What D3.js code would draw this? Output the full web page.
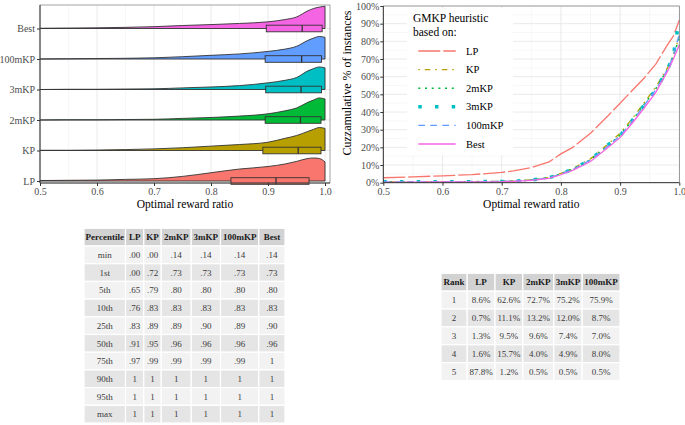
<!DOCTYPE html>
<html><head><meta charset="utf-8">
<script src="https://cdn.jsdelivr.net/npm/d3@7"></script>
<style>
body{margin:0;background:#fff;}
svg, svg text{font-family:"Liberation Serif","Times New Roman",serif;}
</style></head>
<body><svg id="c" width="685" height="425"></svg>
<script>
// ---------- DATA ----------
const heuristics = ["LP","KP","2mKP","3mKP","100mKP","Best"];
const colors = ["#F8766D","#B79F00","#00BA38","#00BFC4","#619CFF","#F564E3"];

// ridge densities (relative) on grid
const densX = [0.5,0.55,0.6,0.65,0.7,0.75,0.8,0.85,0.9,0.93,0.95,0.97,0.98,0.99,1.0];
const densLP     = [0.02,0.03,0.04,0.07,0.10,0.20,0.36,0.52,0.63,0.74,0.85,0.98,1.00,0.98,0.83];
const densKP     = [0.01,0.01,0.02,0.04,0.07,0.12,0.19,0.26,0.36,0.53,0.65,0.83,0.92,1.00,0.96];
const dens2mKP   = [0.00,0.01,0.01,0.02,0.03,0.07,0.11,0.17,0.27,0.40,0.52,0.77,0.87,0.96,0.91];
const dens3mKP   = [0.00,0.01,0.01,0.02,0.03,0.07,0.11,0.17,0.29,0.40,0.52,0.81,0.91,0.98,0.94];
const dens100mKP = [0.00,0.01,0.02,0.03,0.05,0.10,0.16,0.22,0.33,0.43,0.55,0.81,0.91,0.98,0.94];
const densBest   = [0.01,0.02,0.03,0.05,0.08,0.13,0.17,0.22,0.29,0.39,0.50,0.77,0.87,0.93,0.97];

// box quartiles [q1, median, q3]
const boxLP = [0.835,0.914,0.972];
const boxKP = [0.891,0.953,0.993];
const box2mKP = [0.895,0.957,0.993];
const box3mKP = [0.896,0.958,0.994];
const box100mKP = [0.895,0.959,0.994];
const boxBest = [0.897,0.960,0.995];

// cumulative distribution
const cdfX = [0.5,0.55,0.6,0.65,0.7,0.72,0.75,0.78,0.8,0.82,0.85,0.88,0.9,0.92,0.94,0.96,0.98,0.99,1.0];
const cdfLP     = [2.8,3.3,3.9,4.6,5.8,6.7,8.6,11.8,16.3,20,28,38,45,52,59,67,78,83,92];
const cdfKP     = [0.4,0.4,0.5,0.6,0.8,1.0,1.6,3.0,5.3,8.0,13.5,22,28,36,45,54,65,72,83];
const cdf2mKP   = [0.4,0.4,0.5,0.6,0.7,0.9,1.5,2.8,5.0,7.6,13,21,27,35,44,53,64,72,82];
const cdf3mKP   = [0.5,0.5,0.5,0.6,0.7,0.9,1.5,2.8,5.0,7.6,13,21.5,26.5,35,43.5,52.5,64,72,93];
const cdf100mKP = [0.4,0.4,0.5,0.6,0.7,0.9,1.5,2.8,5.0,7.5,12.8,21,26.5,34.5,43.5,52.5,64,72,84];
const cdfBest   = [0.2,0.3,0.4,0.5,0.6,0.8,1.3,2.5,4.5,7.0,12,20,25.5,33.5,42,51,63,70,78];
const cdfDash = ["22 3","1.5 5 5.5 5","2 4.7","3.5 13.2","6.7 5.3",null];
const cdfWidth = [1.3,1.3,1.6,3.5,1.3,1.3];

const xTicks = [0.5,0.6,0.7,0.8,0.9,1.0];
const yTicksPct = [0,10,20,30,40,50,60,70,80,90,100];

// percentile table
const pctHeader = ["Percentile","LP","KP","2mKP","3mKP","100mKP","Best"];
const pctLabels = ["min","1st","5th","10th","25th","50th","75th","90th","95th","max"];
const pctLP     = [".00",".00",".65",".76",".83",".91",".97","1","1","1"];
const pctKP     = [".00",".72",".79",".83",".89",".95",".99","1","1","1"];
const pct2mKP   = [".14",".73",".80",".83",".89",".96",".99","1","1","1"];
const pct3mKP   = [".14",".73",".80",".83",".90",".96",".99","1","1","1"];
const pct100mKP = [".14",".73",".80",".83",".89",".96",".99","1","1","1"];
const pctBest   = [".14",".73",".80",".83",".90",".96","1","1","1","1"];

// rank table
const rankHeader = ["Rank","LP","KP","2mKP","3mKP","100mKP"];
const rankLabels = ["1","2","3","4","5"];
const rankLP     = ["8.6%","0.7%","1.3%","1.6%","87.8%"];
const rankKP     = ["62.6%","11.1%","9.5%","15.7%","1.2%"];
const rank2mKP   = ["72.7%","13.2%","9.6%","4.0%","0.5%"];
const rank3mKP   = ["75.2%","12.0%","7.4%","4.9%","0.5%"];
const rank100mKP = ["75.9%","8.7%","7.0%","8.0%","0.5%"];

// ---------- DRAW ----------
const FONT = "Liberation Serif";
const svg = d3.select("#c");
const axisCol = "#4d4d4d";
const gridMajor = "#e4e4e4", gridMinor = "#efefef";

// ===== Left: ridgeline =====
const L = {x0:40, x1:330, y0:5, y1:183};
const xL = d3.scaleLinear().domain([0.5,1.0]).range([40,325]);
const yL = d3.scalePoint().domain(heuristics).range([181,28.5]);
const hL = d3.scaleLinear().domain([0,1]).range([0,23]);
const dens = [densLP,densKP,dens2mKP,dens3mKP,dens100mKP,densBest];
const boxes = [boxLP,boxKP,box2mKP,box3mKP,box100mKP,boxBest];

const gL = svg.append("g");
gL.append("rect").attr("x",L.x0).attr("y",L.y0).attr("width",L.x1-L.x0).attr("height",L.y1-L.y0).attr("fill","#fff");
d3.range(0.55,1.0,0.1).forEach(v=>{
  gL.append("line").attr("x1",xL(v)).attr("x2",xL(v)).attr("y1",L.y0).attr("y2",L.y1).attr("stroke",gridMinor).attr("stroke-width",0.5);
});
xTicks.forEach(v=>{
  gL.append("line").attr("x1",xL(v)).attr("x2",xL(v)).attr("y1",L.y0).attr("y2",L.y1).attr("stroke",gridMajor).attr("stroke-width",0.8);
});
heuristics.forEach(h=>{
  gL.append("line").attr("x1",L.x0).attr("x2",L.x1).attr("y1",yL(h)).attr("y2",yL(h)).attr("stroke",gridMajor).attr("stroke-width",0.8);
});
for (let i = heuristics.length-1; i >= 0; i--) {
  const h = heuristics[i], base = yL(h);
  const pts = densX.map((x,j)=>[x, dens[i][j]]);
  const area = d3.area().x(d=>xL(d[0])).y0(base).y1(d=>base-hL(d[1])).curve(d3.curveMonotoneX);
  gL.append("path").attr("d",area(pts)).attr("fill",colors[i]).attr("stroke","none");
  const line = d3.line().x(d=>xL(d[0])).y(d=>base-hL(d[1])).curve(d3.curveMonotoneX);
  const last = pts[pts.length-1];
  gL.append("path").attr("d",line(pts)+`L${xL(last[0])},${base}`).attr("fill","none").attr("stroke","#333").attr("stroke-width",0.9);
  gL.append("line").attr("x1",L.x0).attr("x2",xL(1.0)).attr("y1",base).attr("y2",base).attr("stroke","#333").attr("stroke-width",0.9);
  const b = boxes[i];
  gL.append("rect").attr("x",xL(b[0])).attr("y",base-3.3).attr("width",xL(b[2])-xL(b[0])).attr("height",6.6)
    .attr("fill",colors[i]).attr("stroke","#333").attr("stroke-width",0.9);
  gL.append("line").attr("x1",xL(b[1])).attr("x2",xL(b[1])).attr("y1",base-3.3).attr("y2",base+3.3).attr("stroke","#333").attr("stroke-width",1.3);
}
gL.append("rect").attr("x",L.x0).attr("y",L.y0).attr("width",L.x1-L.x0).attr("height",L.y1-L.y0).attr("fill","none").attr("stroke","#666").attr("stroke-width",0.6);
gL.append("line").attr("x1",L.x0).attr("x2",L.x0).attr("y1",L.y0).attr("y2",L.y1).attr("stroke","#333").attr("stroke-width",0.9);
gL.append("line").attr("x1",L.x0).attr("x2",L.x1).attr("y1",L.y1).attr("y2",L.y1).attr("stroke","#333").attr("stroke-width",0.9);
function styleAxis(g){
  g.attr("font-family",FONT);
  g.select(".domain").remove();
  g.selectAll("line").attr("stroke","#333");
  g.selectAll("text").attr("fill",axisCol).attr("font-family",FONT).attr("font-size",10);
}
const axL = d3.axisBottom(xL).tickValues(xTicks).tickFormat(d3.format(".1f")).tickSize(3).tickPadding(2);
styleAxis(gL.append("g").attr("transform",`translate(0,${L.y1})`).call(axL));
const ayL = d3.axisLeft(yL).tickSize(3).tickPadding(2);
styleAxis(gL.append("g").attr("transform",`translate(${L.x0},0)`).call(ayL));
gL.append("text").attr("x",(L.x0+L.x1)/2).attr("y",208).attr("text-anchor","middle").attr("font-family",FONT).attr("font-size",11.5).attr("fill","#000").text("Optimal reward ratio");

// ===== Right: CDF =====
const R = {x0:383.3, x1:679.3, y0:6, y1:182.7};
const xR = d3.scaleLinear().domain([0.5,1.0]).range([R.x0,R.x1]);
const yR = d3.scaleLinear().domain([0,100]).range([R.y1,R.y0]);
const cdfs = [cdfLP,cdfKP,cdf2mKP,cdf3mKP,cdf100mKP,cdfBest];
const gR = svg.append("g");
svg.append("clipPath").attr("id","clipR").append("rect").attr("x",R.x0).attr("y",R.y0-2).attr("width",R.x1-R.x0+2).attr("height",R.y1-R.y0+2);
d3.range(0.55,1.0,0.1).forEach(v=>{
  gR.append("line").attr("x1",xR(v)).attr("x2",xR(v)).attr("y1",R.y0).attr("y2",R.y1).attr("stroke",gridMinor).attr("stroke-width",0.5);
});
d3.range(5,100,10).forEach(v=>{
  gR.append("line").attr("x1",R.x0).attr("x2",R.x1).attr("y1",yR(v)).attr("y2",yR(v)).attr("stroke",gridMinor).attr("stroke-width",0.5);
});
xTicks.forEach(v=>{
  gR.append("line").attr("x1",xR(v)).attr("x2",xR(v)).attr("y1",R.y0).attr("y2",R.y1).attr("stroke",gridMajor).attr("stroke-width",0.8);
});
yTicksPct.forEach(v=>{
  gR.append("line").attr("x1",R.x0).attr("x2",R.x1).attr("y1",yR(v)).attr("y2",yR(v)).attr("stroke",gridMajor).attr("stroke-width",0.8);
});
const lg = {x:407, y:8, w:106, h:147};
gR.append("rect").attr("x",lg.x).attr("y",lg.y).attr("width",lg.w).attr("height",lg.h).attr("fill","#fff");
const gLines = gR.append("g").attr("clip-path","url(#clipR)");
heuristics.forEach((h,i)=>{
  const line = d3.line().x((d,j)=>xR(cdfX[j])).y(d=>yR(d));
  const p = gLines.append("path").attr("d",line(cdfs[i])).attr("fill","none").attr("stroke",colors[i]).attr("stroke-width",cdfWidth[i]);
  if (cdfDash[i]) p.attr("stroke-dasharray",cdfDash[i]);
});
gR.append("rect").attr("x",R.x0).attr("y",R.y0).attr("width",R.x1-R.x0).attr("height",R.y1-R.y0).attr("fill","none").attr("stroke","#666").attr("stroke-width",0.6);
gR.append("line").attr("x1",R.x0).attr("x2",R.x0).attr("y1",R.y0).attr("y2",R.y1).attr("stroke","#333").attr("stroke-width",0.9);
gR.append("line").attr("x1",R.x0).attr("x2",R.x1).attr("y1",R.y1).attr("y2",R.y1).attr("stroke","#333").attr("stroke-width",0.9);
const axR = d3.axisBottom(xR).tickValues(xTicks).tickFormat(d3.format(".1f")).tickSize(3).tickPadding(2);
styleAxis(gR.append("g").attr("transform",`translate(0,${R.y1})`).call(axR));
const ayR = d3.axisLeft(yR).tickValues(yTicksPct).tickFormat(d=>d+"%").tickSize(3).tickPadding(1);
styleAxis(gR.append("g").attr("transform",`translate(${R.x0},0)`).call(ayR));
gR.append("text").attr("x",(R.x0+R.x1)/2).attr("y",208).attr("text-anchor","middle").attr("font-family",FONT).attr("font-size",11.5).text("Optimal reward ratio");
gR.append("text").attr("transform","translate(351,83) rotate(-90)").attr("text-anchor","middle").attr("font-family",FONT).attr("font-size",12).text("Cuzzamulative % of instances");
gR.append("text").attr("x",413).attr("y",22).attr("font-family",FONT).attr("font-size",11.5).text("GMKP heuristic");
gR.append("text").attr("x",413).attr("y",36).attr("font-family",FONT).attr("font-size",11.5).text("based on:");
const legY = d3.scalePoint().domain(heuristics).range([51,144]);
heuristics.forEach((h,i)=>{
  const y = legY(h);
  const l = gR.append("line").attr("x1",418.3).attr("x2",455.7).attr("y1",y).attr("y2",y).attr("stroke",colors[i]).attr("stroke-width",cdfWidth[i]);
  if (cdfDash[i]) l.attr("stroke-dasharray",cdfDash[i]);
  gR.append("text").attr("x",466).attr("y",y).attr("dy","0.35em").attr("font-family",FONT).attr("font-size",10.5).text(h);
});

// ===== Tables =====
function drawTable(x0, colW, yTop, yBot, header, rows) {
  const g = svg.append("g");
  const edges = [x0]; colW.forEach(w=>edges.push(edges[edges.length-1]+w));
  const yB = d3.scaleBand().domain(d3.range(rows.length+1)).range([yTop,yBot]);
  const fills = ["#d2d2d2","#f2f2f2","#e5e5e5"];
  [header].concat(rows).forEach((r,ri)=>{
    const fill = ri===0 ? fills[0] : (ri%2===1 ? fills[1] : fills[2]);
    r.forEach((txt,ci)=>{
      g.append("rect").attr("x",edges[ci]).attr("y",yB(ri)).attr("width",colW[ci]).attr("height",yB.bandwidth())
        .attr("fill",fill).attr("stroke","#fff").attr("stroke-width",1.2);
      g.append("text").attr("x",(edges[ci]+edges[ci+1])/2).attr("y",yB(ri)+yB.bandwidth()/2).attr("dy","0.35em")
        .attr("text-anchor","middle").attr("font-family",FONT).attr("font-size",9).attr("font-weight",ri===0?"bold":"normal")
        .attr("fill",ri===0?"#1a1a1a":"#3a3a3a").text(txt);
    });
  });
}
const pctCols = [pctLP,pctKP,pct2mKP,pct3mKP,pct100mKP,pctBest];
const pctRows = pctLabels.map((lab,i)=>[lab].concat(pctCols.map(c=>c[i])));
drawTable(84,[41.5,18.3,17.4,30,29.3,38.3,26.2],228.3,423,pctHeader,pctRows);
const rankCols = [rankLP,rankKP,rank2mKP,rank3mKP,rank100mKP];
const rankRows = rankLabels.map((lab,i)=>[lab].concat(rankCols.map(c=>c[i])));
drawTable(441,[26.2,27.8,27.8,31,28.4,37.8],273.3,380.5,rankHeader,rankRows);
</script></body></html>
